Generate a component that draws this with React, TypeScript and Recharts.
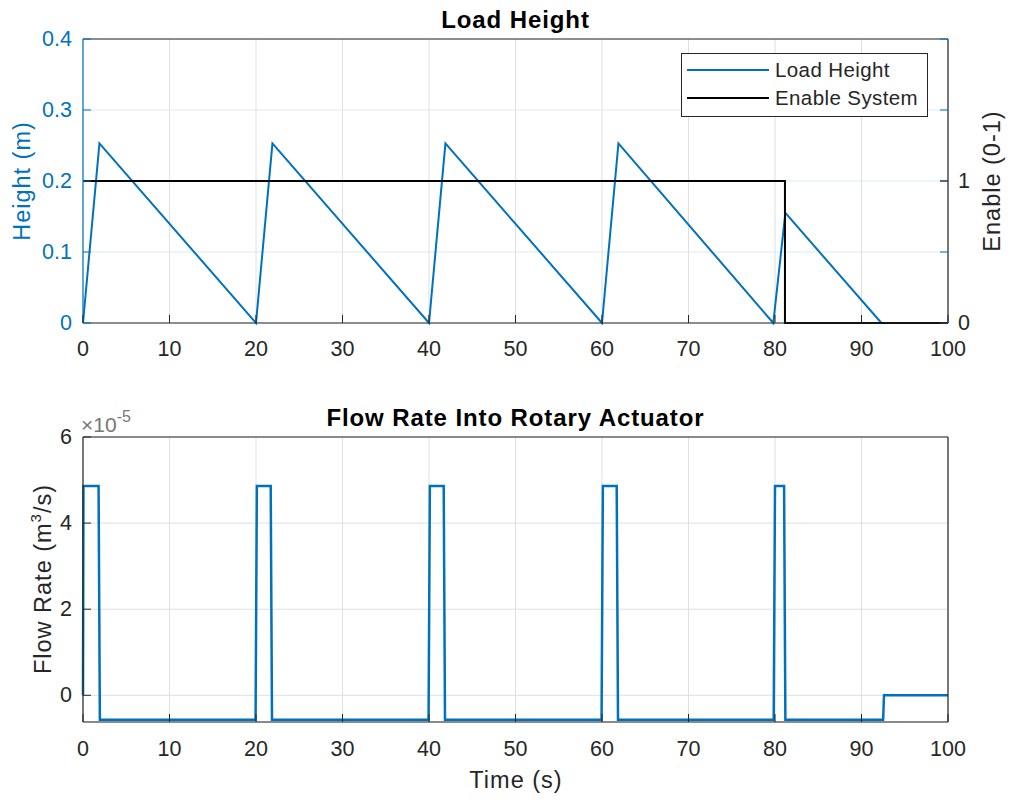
import React from 'react';
import { LineChart, Line, XAxis, YAxis, CartesianGrid, Legend } from 'recharts';

// ---------- data ----------
const timeTicks = [0, 10, 20, 30, 40, 50, 60, 70, 80, 90, 100];
const heightTicks = [0, 0.1, 0.2, 0.3, 0.4];
const enableTicks = [0, 1];
const flowTicks = [0, 2e-5, 4e-5, 6e-5];

const heightTime = [0, 1.9, 20, 21.9, 40, 41.9, 60, 61.9, 79.8, 81.2, 92.3, 100];
const heightValue = [0, 0.253, 0, 0.253, 0, 0.253, 0, 0.253, 0, 0.155, 0, 0];

const enableTime = [0, 81.15, 81.15, 100];
const enableValue = [1, 1, 0, 0];

const flowTime = [0, 0.05, 1.8, 1.95, 19.95, 20.1, 21.7, 21.85, 39.95, 40.1, 41.7, 41.85, 59.95, 60.1, 61.7, 61.85, 79.85, 80.0, 81.05, 81.2, 92.5, 92.6, 100];
const flowValue = [0, 4.86e-5, 4.86e-5, -0.57e-5, -0.57e-5, 4.86e-5, 4.86e-5, -0.57e-5, -0.57e-5, 4.86e-5, 4.86e-5, -0.57e-5, -0.57e-5, 4.86e-5, 4.86e-5, -0.57e-5, -0.57e-5, 4.86e-5, 4.86e-5, -0.57e-5, -0.57e-5, 0, 0];

const legendOrder = ['Load Height', 'Enable System'];

const heightData = heightTime.map((t, i) => ({ t, v: heightValue[i] }));
const enableData = enableTime.map((t, i) => ({ t, v: enableValue[i] }));
const flowData = flowTime.map((t, i) => ({ t, v: flowValue[i] }));

// ---------- style / layout ----------
const AX = '#262626';
const BLUE = '#0072BD';
const FONT = '"Liberation Sans", Arial, Helvetica, sans-serif';
const W = 1010;
const PL = 83;
const PR = 948;
const CX = (PL + PR) / 2;
const TICK = 8;
const TICK_FS = 21.5;
const LABEL_FS = 23.5;
const LABEL_LS = 1;
const TITLE_FS = 24;
const TITLE_LS = 0.9;
const TOPH = 20;

// top chart
const H1 = 400;
const T1 = 39;
const B1 = 323;
// bottom chart
const H2 = 404;
const T2 = 37;
const B2 = 322;

const makeXTick = (plotBottom: number, labelY: number) => (p: any) => (
  <g>
    <line x1={p.x} x2={p.x} y1={plotBottom} y2={plotBottom - TICK} stroke={AX} strokeWidth={1} />
    <text x={p.x} y={labelY} textAnchor="middle" dominantBaseline="central" fontSize={TICK_FS} fill={AX}>
      {p.payload.value}
    </text>
  </g>
);

const makeTopXTick = (plotTop: number) => (p: any) => (
  <line x1={p.x} x2={p.x} y1={plotTop} y2={plotTop + TICK} stroke={AX} strokeWidth={1} />
);

const HeightTick = (p: any) => (
  <g>
    <line x1={PL} x2={PL + TICK} y1={p.y} y2={p.y} stroke={BLUE} strokeWidth={1} />
    <line x1={PR} x2={PR - TICK} y1={p.y} y2={p.y} stroke={BLUE} strokeWidth={1} />
    <text x={PL - 11} y={p.y} textAnchor="end" dominantBaseline="central" fontSize={TICK_FS} fill={BLUE}>
      {String(p.payload.value)}
    </text>
  </g>
);

const EnableTick = (p: any) => (
  <g>
    <line x1={PR} x2={PR - TICK} y1={p.y} y2={p.y} stroke={AX} strokeWidth={1} />
    <text x={PR + 10} y={p.y} textAnchor="start" dominantBaseline="central" fontSize={TICK_FS} fill={AX}>
      {String(p.payload.value)}
    </text>
  </g>
);

const FlowTick = (p: any) => (
  <g>
    <line x1={PL} x2={PL + TICK} y1={p.y} y2={p.y} stroke={AX} strokeWidth={1} />
    <text x={PL - 11} y={p.y} textAnchor="end" dominantBaseline="central" fontSize={TICK_FS} fill={AX}>
      {String(Math.round(p.payload.value * 1e5))}
    </text>
  </g>
);

const FlowRightTick = (p: any) => (
  <line x1={PR} x2={PR - TICK} y1={p.y} y2={p.y} stroke={AX} strokeWidth={1} />
);

const legendContent = (props: any) => {
  const items = [...(props.payload || [])].sort(
    (a: any, b: any) => legendOrder.indexOf(a.value) - legendOrder.indexOf(b.value)
  );
  return (
    <div
      style={{
        boxSizing: 'border-box',
        width: 247,
        height: 64,
        border: `1.5px solid ${AX}`,
        background: '#fff',
        paddingTop: 2,
        fontFamily: FONT,
        fontSize: 20.5,
        letterSpacing: 0.4,
        color: AX,
      }}
    >
      {items.map((it: any) => (
        <div key={it.value} style={{ display: 'flex', alignItems: 'center', height: 28 }}>
          <svg width={82} height={10} style={{ marginLeft: 5, display: 'block' }}>
            <line x1={0} x2={82} y1={5} y2={5} stroke={it.color} strokeWidth={2} />
          </svg>
          <span style={{ marginLeft: 6, whiteSpace: 'nowrap' }}>{it.value}</span>
        </div>
      ))}
    </div>
  );
};

export default function App() {
  return (
    <div style={{ position: 'absolute', left: 0, top: 0, width: W, height: 804, background: '#fff', fontFamily: FONT }}>
      <div style={{ position: 'absolute', left: 0, top: 0 }}>
        <LineChart width={W} height={H1} margin={{ top: T1 - TOPH, right: 0, bottom: H1 - B1 - 30, left: 0 }}>
          <CartesianGrid xAxisId="b" yAxisId="l" vertical={false} stroke="#d9eaf5" strokeWidth={1} />
          <CartesianGrid xAxisId="b" yAxisId="l" horizontal={false} stroke="#dfdfdf" strokeWidth={1} />
          <XAxis
            xAxisId="b"
            dataKey="t"
            type="number"
            domain={[0, 100]}
            ticks={timeTicks}
            height={30}
            tickLine={false}
            tickSize={0}
            axisLine={{ stroke: AX, strokeWidth: 1.2 }}
            tick={makeXTick(B1, B1 + 26)}
            interval={0}
          />
          <XAxis
            xAxisId="t"
            orientation="top"
            dataKey="t"
            type="number"
            domain={[0, 100]}
            ticks={timeTicks}
            height={TOPH}
            tickLine={false}
            tickSize={0}
            axisLine={{ stroke: AX, strokeWidth: 1.2 }}
            tick={makeTopXTick(T1)}
            interval={0}
            label={() => (
              <text x={CX} y={19} textAnchor="middle" dominantBaseline="central" fontSize={TITLE_FS} letterSpacing={TITLE_LS} fontWeight="bold" fill="#000">
                Load Height
              </text>
            )}
          />
          <YAxis
            yAxisId="l"
            orientation="left"
            type="number"
            domain={[0, 0.4]}
            ticks={heightTicks}
            width={PL}
            tickLine={false}
            tickSize={0}
            axisLine={{ stroke: BLUE, strokeWidth: 1.2 }}
            tick={HeightTick}
            interval={0}
            label={() => (
              <text x={22} y={181} transform="rotate(-90 22 181)" textAnchor="middle" dominantBaseline="central" fontSize={LABEL_FS} letterSpacing={LABEL_LS} fill={BLUE}>
                Height (m)
              </text>
            )}
          />
          <YAxis
            yAxisId="r"
            orientation="right"
            type="number"
            domain={[0, 2]}
            ticks={enableTicks}
            width={W - PR}
            tickLine={false}
            tickSize={0}
            axisLine={{ stroke: AX, strokeWidth: 1.2 }}
            tick={EnableTick}
            interval={0}
            label={() => (
              <text x={992} y={181} transform="rotate(-90 992 181)" textAnchor="middle" dominantBaseline="central" fontSize={LABEL_FS} letterSpacing={LABEL_LS} fill={AX}>
                Enable (0-1)
              </text>
            )}
          />
          <Line
            xAxisId="b"
            yAxisId="l"
            data={heightData}
            dataKey="v"
            name="Load Height"
            type="linear"
            stroke={BLUE}
            strokeWidth={2}
            dot={false}
            isAnimationActive={false}
          />
          <Line
            xAxisId="b"
            yAxisId="r"
            data={enableData}
            dataKey="v"
            name="Enable System"
            type="linear"
            stroke="#000"
            strokeWidth={2}
            dot={false}
            isAnimationActive={false}
          />
          <Legend
            layout="horizontal"
            verticalAlign="middle"
            align="center"
            content={legendContent}
            wrapperStyle={{ left: 681, top: 53, width: 247, height: 64 }}
          />
        </LineChart>
      </div>
      <div style={{ position: 'absolute', left: 0, top: H1 }}>
        <LineChart width={W} height={H2} margin={{ top: T2 - TOPH, right: 0, bottom: H2 - B2 - 30, left: 0 }}>
          <CartesianGrid xAxisId="b" yAxisId="l" stroke="#dfdfdf" strokeWidth={1} />
          <XAxis
            xAxisId="b"
            dataKey="t"
            type="number"
            domain={[0, 100]}
            ticks={timeTicks}
            height={30}
            tickLine={false}
            tickSize={0}
            axisLine={{ stroke: AX, strokeWidth: 1.2 }}
            tick={makeXTick(B2, B2 + 27)}
            interval={0}
            label={() => (
              <text x={516} y={380} textAnchor="middle" dominantBaseline="central" fontSize={LABEL_FS} letterSpacing={LABEL_LS} fill={AX}>
                Time (s)
              </text>
            )}
          />
          <XAxis
            xAxisId="t"
            orientation="top"
            dataKey="t"
            type="number"
            domain={[0, 100]}
            ticks={timeTicks}
            height={TOPH}
            tickLine={false}
            tickSize={0}
            axisLine={{ stroke: AX, strokeWidth: 1.2 }}
            tick={makeTopXTick(T2)}
            interval={0}
            label={() => (
              <text x={CX} y={17} textAnchor="middle" dominantBaseline="central" fontSize={TITLE_FS} letterSpacing={TITLE_LS} fontWeight="bold" fill="#000">
                Flow Rate Into Rotary Actuator
              </text>
            )}
          />
          <YAxis
            yAxisId="l"
            orientation="left"
            type="number"
            domain={[-0.62e-5, 6e-5]}
            ticks={flowTicks}
            width={PL}
            tickLine={false}
            tickSize={0}
            axisLine={{ stroke: AX, strokeWidth: 1.2 }}
            tick={FlowTick}
            interval={0}
            label={() => (
              <text x={43} y={179} transform="rotate(-90 43 179)" textAnchor="middle" dominantBaseline="central" fontSize={LABEL_FS} letterSpacing={LABEL_LS} fill={AX}>
                Flow Rate (m<tspan dy={-8} fontSize={15}>3</tspan>
                <tspan dy={8}>/s)</tspan>
              </text>
            )}
          />
          <YAxis
            yAxisId="r"
            orientation="right"
            type="number"
            domain={[-0.62e-5, 6e-5]}
            ticks={flowTicks}
            width={W - PR}
            tickLine={false}
            tickSize={0}
            axisLine={{ stroke: AX, strokeWidth: 1.2 }}
            tick={FlowRightTick}
            interval={0}
            label={() => (
              <text x={PL - 2} y={32} textAnchor="start" fontSize={21} fill="#777">
                ×10<tspan dy={-10} fontSize={16}>-5</tspan>
              </text>
            )}
          />
          <Line
            xAxisId="b"
            yAxisId="l"
            data={flowData}
            dataKey="v"
            name="Flow"
            type="linear"
            stroke={BLUE}
            strokeWidth={2.5}
            dot={false}
            isAnimationActive={false}
          />
        </LineChart>
      </div>
    </div>
  );
}
